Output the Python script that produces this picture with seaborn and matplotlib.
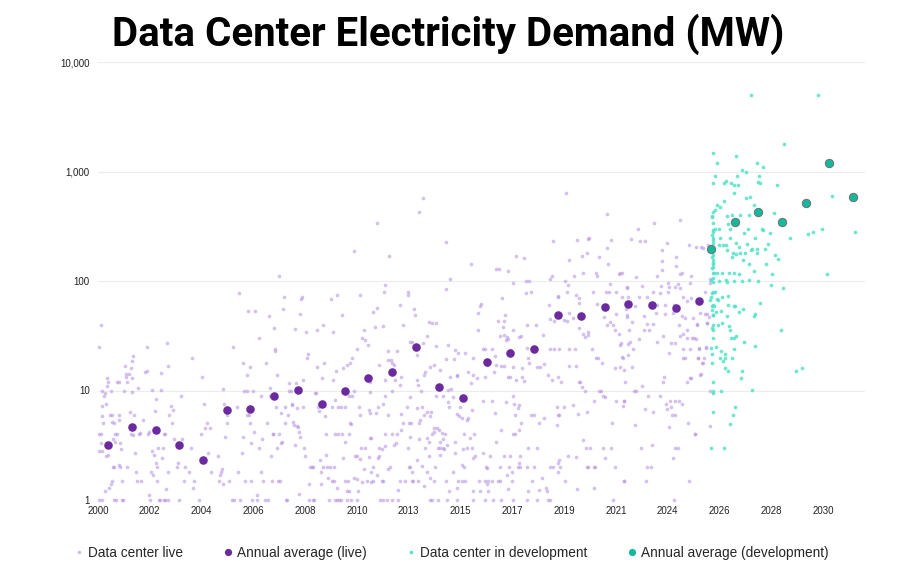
import warnings
warnings.filterwarnings("ignore")
import pandas as pd
import matplotlib
matplotlib.use("Agg")
import matplotlib.pyplot as plt
from matplotlib.lines import Line2D
from matplotlib.ticker import NullLocator
import seaborn as sns

# ---------------- data (year, MW) ----------------
live_2000s = [
(2000.06,24.8),(2000.12,40),(2000.15,10),(2000.06,4),(2000.12,4),(2000.17,7.2),(2000.18,5.9),(2000.19,5),(2000.12,3.3),(2000.15,2.8),
(2000.06,2.8),(2000.03,1),(2000.17,1),(2000.26,8.9),(2000.30,9.4),(2000.36,11),(2000.39,13),(2000.41,12),(2000.33,7.5),(2000.32,2.5),
(2000.43,2.6),(2000.30,1.2),(2000.46,1.3),(2000.54,1.4),(2000.57,1.5),(2000.50,6),(2000.54,10),(2000.58,5.2),(2000.61,3.6),(2000.62,2),
(2000.66,2),(2000.65,1),(2000.76,1),(2000.69,4),(2000.70,3.4),(2000.66,5),(2000.59,6),(2000.77,12),(2000.87,12),(2000.80,4),
(2000.86,6),(2000.88,5.4),(2000.88,2.1),(2000.91,2),(2000.98,1),(2001.02,1),(2000.92,3.3),(2000.95,2.9),(2001.01,1.5),(2001.08,10),
(2001.10,16.7),(2001.14,14),(2001.16,13.4),(2001.20,12),(2001.21,2),(2001.30,14.2),(2001.32,6.3),(2001.35,4),(2001.39,18.6),(2001.38,16),
(2001.41,13),(2001.41,9.7),(2001.46,20.7),(2001.46,3.9),(2001.50,6),(2001.53,2.7),(2001.56,1.8),(2001.61,1.5),(2001.64,10.6),(2001.70,4),
(2001.74,4.1),(2001.78,1.5),(2001.88,5.4),(2001.96,14.7),(2002.01,15),(2002.04,25),(2002.06,4),(2002.10,4.2),(2002.12,1.1),(2002.15,1),
(2002.21,1.8),(2002.22,10.2),(2002.25,2.8),(2002.28,1.7),(2002.32,2.6),(2002.36,6.5),(2002.39,8.3),(2002.41,2.2),(2002.43,2),(2002.46,1.5),
(2002.48,3),(2002.52,1),(2002.57,1),(2002.59,10.2),(2002.62,14.4),(2002.65,2.4),(2002.69,3),(2002.73,4),(2002.77,4),(2002.72,1),
(2002.79,1),(2002.81,1.25),(2002.84,27),(2002.88,16.7),(2002.90,1.8),(2002.91,1),(2002.95,6),(2003.01,7.2),(2003.06,5),(2003.10,6.7),
(2003.14,3.6),(2003.26,2),(2003.30,2.2),(2003.37,1),(2003.42,8.9),(2003.49,3.6),(2003.54,1.5),(2003.61,2),(2003.77,1.8),(2003.86,3),
(2003.90,19.7),(2003.93,1.3),(2003.99,1.5),(2004.19,1),(2004.26,4),(2004.32,13.4),(2004.37,7.5),(2004.41,4.5),(2004.50,5),(2004.57,2.7),
(2004.63,4.5),(2004.68,1.8),(2004.95,2.5),(2005.01,1.5),(2005.05,1.7),(2005.09,1.8),(2005.13,1.9),(2005.16,1.4),(2005.19,10.4),(2005.21,7.5),
(2005.27,3.8),(2005.32,6),(2005.34,5),(2005.41,1.5),(2005.53,1),(2005.57,25),(2005.63,1),(2005.74,7.1),(2005.78,1.8),(2005.85,77),
(2005.88,1),(2005.94,2.7),(2005.99,3.8),(2006.01,18),(2006.04,10),(2006.08,1.5),(2006.15,13.8),(2006.17,6),(2006.18,10),(2006.21,53),
(2006.25,6),(2006.28,16.3),(2006.30,5.1),(2006.33,3.3),(2006.34,1.5),(2006.39,1),(2006.41,10),(2006.44,4.2),(2006.50,53),(2006.57,1.1),
(2006.59,1),(2006.65,30),(2006.68,3),(2006.73,1.8),(2006.76,9),(2006.79,3.6),(2006.84,1.5),(2006.90,1),(2006.95,18),(2006.98,5),
(2007.03,1),(2007.09,48),(2007.10,10.5),(2007.13,9),(2007.16,2.5),(2007.19,1.5),(2007.24,4),(2007.26,4),(2007.28,37),(2007.31,23),
(2007.34,24),(2007.35,7.1),(2007.39,13.8),(2007.42,3),(2007.45,1.5),(2007.48,111),(2007.49,4),(2007.52,1.5),(2007.56,3.3),(2007.59,6.2),
(2007.63,3.4),(2007.67,56),(2007.70,71),(2007.72,5),(2007.75,7),(2007.78,1),(2007.82,1),(2007.85,6),(2007.89,11.6),(2007.92,9.8),
(2007.97,10),(2008.01,7.6),(2008.04,7.4),(2008.08,5.2),(2008.11,4.8),(2008.14,3.2),(2008.17,36.6),(2008.19,11.8),(2008.22,6.9),(2008.25,4.7),
(2008.28,4.6),(2008.30,4.2),(2008.32,1.13),(2008.34,3.8),(2008.37,50),(2008.40,69),(2008.44,72),(2008.47,7),(2008.50,12.5),(2008.54,3),
(2008.57,2.5),(2008.59,34),(2008.63,20),(2008.68,21.6),(2008.72,1.4),(2008.74,1),(2008.77,2),(2008.84,2),(2008.88,2),(2008.91,1),
(2008.94,1),(2008.98,9.4),(2009.02,9.5),(2009.05,36),(2009.08,16.5),(2009.10,7),(2009.13,7.6),(2009.16,6.5),(2009.19,2.3),(2009.21,1.8),
(2009.24,1.4),(2009.27,13),(2009.30,2),(2009.32,40),(2009.35,18),(2009.39,5.8),(2009.42,4),(2009.45,2.6),(2009.49,2),(2009.52,1.6),
(2009.56,1),(2009.59,2),(2009.63,68),(2009.66,1.5),(2009.68,7),(2009.71,12.6),(2009.74,34),(2009.77,1.5),(2009.79,4),(2009.82,1),
(2009.85,15),(2009.88,74),(2009.90,1.3),(2009.93,7),(2009.97,1),
]

live_2010s_a = [
(2010.83,74),(2010.08,49),(2011.00,36),(2010.94,30),(2011.05,29),(2011.19,26),(2010.70,24),(2010.51,20),(2010.29,17),(2010.12,16),
(2010.44,18),(2009.82,8.2),(2010.04,7),(2010.23,7),(2010.40,9),(2010.52,9),(2010.58,10),(2010.48,4.9),(2010.41,5),(2010.83,6),
(2010.81,7),(2011.21,6.7),(2011.24,9.7),(2011.27,12),(2010.21,3.4),(2010.10,4),(2009.93,4),(2010.40,4),(2011.24,3.7),(2011.31,3.7),
(2010.90,3),(2011.03,3),(2010.70,2.5),(2010.62,2.5),(2010.83,2.35),(2010.12,2.4),(2009.78,2),(2010.21,1.5),(2010.36,1.5),(2010.29,1.2),
(2010.40,1.2),(2010.59,1.6),(2010.73,1.55),(2010.94,1.45),(2011.12,1.5),(2010.74,1.2),(2009.90,1),(2010.05,1),(2010.29,1),(2010.47,1),
(2010.73,1),
(2011.46,38),(2011.39,52),(2011.56,57),(2011.81,39),(2012.00,23),(2012.01,19),(2012.11,19),(2012.15,18),(2012.18,14.5),(2012.39,23),
(2012.48,60),(2012.61,40),(2012.81,79),(2012.84,74),(2013.08,55),(2013.12,49),(2013.01,28),(2012.91,28),(2012.26,17),(2012.54,13.4),
(2011.88,12.5),(2011.64,17),(2012.29,12.5),(2012.50,11.2),(2012.15,10),(2011.88,9),(2011.77,7.6),(2011.60,7),(2011.50,6.2),(2011.26,6.2),
(2012.01,6),(2012.54,6.1),(2012.61,5),(2012.88,5),(2012.91,8.8),(2012.77,7.1),(2012.17,4),(2011.86,4),(2011.88,3.1),(2012.36,4),
(2012.32,3.3),(2012.26,3.2),(2012.52,4.4),(2012.81,3),(2012.91,3.8),(2011.61,3),(2011.74,2.9),(2011.63,2.5),(2011.23,2.45),(2011.57,2.4),
(2012.10,2),(2012.00,1.9),(2011.38,2),(2011.30,1.8),(2011.01,1.9),(2011.74,1.5),(2011.81,1.5),(2011.54,1.7),(2011.39,1.5),(2011.31,1.45),
(2012.50,1.5),(2012.69,1.5),(2012.98,1.5),(2013.05,1.5),(2012.40,1.23),(2012.88,2),(2012.91,2),(2012.98,1.8),(2011.67,1),(2011.81,1),
(2011.94,1),(2012.15,1),(2012.43,1),
(2013.21,21),(2013.46,27),(2013.60,31.4),(2013.68,42.6),(2013.81,41.5),(2013.97,41.5),(2014.41,84),(2013.99,25.5),(2014.48,26),(2014.75,23.4),
(2013.90,17),(2013.49,13.8),(2013.21,12.5),(2013.53,14.8),(2013.74,16.5),(2014.39,19.3),(2014.15,15.4),(2014.90,21.9),(2014.57,13.4),(2014.84,13.6),
(2014.72,19.5),(2013.24,11.2),(2013.37,10),(2013.21,6.9),(2013.39,7.1),(2013.60,6.4),(2013.77,6.4),(2014.00,9),(2014.26,9),(2014.46,10.2),
(2014.68,8.8),(2014.46,7.9),(2014.52,7.1),(2014.87,6.1),(2014.95,5.8),(2015.05,5.6),(2014.98,7.1),(2014.87,13.8),(2014.60,10.4),(2013.32,5.4),
(2013.50,6),(2013.74,5.8),(2012.94,5),(2013.26,5),(2013.92,4.5),(2014.01,4.5),(2014.11,4.4),(2014.22,4.1),(2014.36,4),(2013.88,4.2),
(2013.81,4),(2013.30,3.6),(2013.63,3.7),(2013.70,3.4),(2014.15,3.4),(2014.29,3.6),(2013.53,3),(2014.05,3),(2014.14,3),(2014.26,3),
(2014.32,2.9),(2014.43,3.2),(2014.76,3.4),(2015.12,2.9),(2014.77,2.7),(2013.71,2.5),(2014.15,2.6),(2013.21,2.3),(2013.39,2.05),(2013.96,2),
(2013.60,1.8),(2013.92,1.5),(2013.23,1.5),(2013.50,1.35),(2013.74,1.6),(2014.39,1.5),(2014.68,1.8),(2014.91,1.5),(2015.05,1.5),(2015.19,1.5),
(2014.84,1.28),(2015.05,2.1),(2015.16,2),(2014.52,1.2),(2013.74,1),(2013.81,1),(2014.08,1),(2014.43,1),(2014.84,1),
]

live_2010s_b = [
(2010.60,188),(2012.03,169),(2011.88,91),(2011.85,80),(2014.57,104),(2015.43,143),(2016.46,129),(2016.60,129),(2016.95,124),(2017.30,169),
(2017.64,161),(2017.17,95),(2017.72,100),(2017.83,101),(2017.90,80),(2017.71,77),(2019.50,155),(2020.04,168),(2020.22,179),(2020.74,164),
(2021.10,143),(2020.08,119),(2019.70,110),(2018.77,111),(2018.70,104),(2020.59,119),(2020.65,110),(2021.54,117),(2021.67,119),(2021.19,94),
(2021.89,87),(2021.42,79),(2021.00,79),(2021.12,79),
(2015.19,21.9),(2015.32,14.8),(2015.53,20),(2015.45,11.8),(2015.74,50.6),(2015.79,59.5),(2015.83,61.6),(2015.71,35.6),(2015.94,23.8),(2016.01,23.8),
(2016.08,17),(2016.29,23.8),(2016.41,20.6),(2016.46,17),(2016.54,43),(2016.63,31.7),(2016.77,38.2),(2016.81,43),(2016.84,49),(2016.73,70.5),
(2016.87,29),(2016.81,32),(2017.15,35.6),(2016.98,29.3),(2016.94,31),(2017.05,23.4),(2016.66,16.7),(2016.81,16.7),(2017.16,16.5),(2015.53,13.8),
(2015.67,12.9),(2016.03,13.4),(2016.40,14.7),(2016.98,13.4),(2017.05,13.4),(2015.92,8),(2016.29,8),(2016.43,6.2),(2017.17,9),(2016.89,7.9),
(2017.21,7.5),(2017.24,6),(2015.48,6.6),(2015.32,5.6),(2015.26,5.4),(2015.39,3.7),(2015.16,4),(2015.28,3),(2015.46,3),(2015.56,4),
(2015.60,2.5),(2015.50,2.4),(2015.94,2.7),(2016.22,2.5),(2016.81,2.5),(2017.05,2.5),(2017.17,4),(2017.26,4),(2016.66,4.4),(2016.46,3.4),
(2016.04,2),(2016.08,1.95),(2016.63,2),(2017.00,2),(2017.12,1.8),(2016.91,1.7),(2016.65,1.5),(2016.54,1.5),(2015.78,1.5),(2015.99,1.5),
(2016.12,1.5),(2016.30,1.5),(2017.14,1.5),(2016.11,1.4),(2015.53,1.2),(2015.81,1.2),(2016.15,1.2),(2016.98,1.25),(2015.53,1),(2016.03,1),
(2016.36,1),(2016.68,1),(2017.17,1),
(2017.41,30.5),(2017.48,31.4),(2017.74,39.7),(2018.11,39.7),(2018.40,32),(2018.65,60),(2018.70,44.8),(2018.87,43),(2019.01,71.6),(2019.03,73.7),
(2018.70,23.9),(2018.87,23.9),(2019.06,23.9),(2019.26,44),(2017.85,17.7),(2017.74,24.3),(2017.78,19.9),(2018.29,16.3),(2018.43,17.5),(2017.53,15.9),
(2017.53,13.4),(2017.28,12.5),(2017.61,12.2),(2018.15,16.5),(2018.63,13.8),(2018.77,12.5),(2019.01,13.4),(2019.17,12),(2017.38,6.9),(2017.43,7.4),
(2017.92,6),(2018.04,6),(2018.26,5),(2018.43,5.6),(2019.03,6),(2019.08,6),(2018.98,4.8),(2017.50,5),(2017.41,4.4),(2017.78,3),
(2018.15,3),(2017.46,2.5),(2017.42,2.2),(2017.37,2),(2017.46,2),(2017.74,2),(2018.04,2),(2018.70,2),(2018.81,2),(2019.08,2.3),
(2019.05,1.8),(2018.36,1.6),(2017.96,1.5),(2018.26,1.23),(2018.52,1.3),(2018.59,1.2),(2017.79,1.2),(2018.63,1),(2018.70,1),(2018.15,1),
(2017.74,1),
(2019.32,100),(2019.43,91),(2019.39,80),(2019.78,74),(2019.89,70.5),(2019.42,43.5),(2019.50,50.7),(2019.67,45.5),(2019.90,63),(2019.88,37),
(2020.08,32.6),(2020.26,32),(2020.46,80),(2020.29,34.5),(2020.63,61.6),(2020.95,47.3),(2021.05,39.7),(2021.19,42.5),(2021.30,39.7),(2021.38,35.6),
(2021.55,33),(2021.64,27),(2021.43,49.6),(2021.88,49),(2021.93,26.5),(2019.50,23.7),(2019.74,23.7),(2020.15,31),(2020.43,23.7),(2020.59,20),
(2020.68,20),(2020.84,18),(2019.50,16.8),(2019.76,16.8),(2019.88,12),(2019.94,12),(2020.04,10.8),(2020.15,9.9),(2020.74,10),(2020.81,10),
(2020.91,9),(2020.98,8.8),(2021.39,15.9),(2021.68,20.4),(2021.74,15.4),(2021.79,12),(2021.78,8),(2021.43,8),(2021.60,16.5),(2018.98,7.1),
(2019.26,7.1),(2019.67,7.4),(2019.86,6.1),(2020.22,6.4),(2020.50,8),(2021.26,5),(2020.08,3.5),(2020.19,3),(2020.36,3),(2019.46,2.5),
(2019.78,2.45),(2020.22,2),(2020.29,2),(2020.50,2),(2020.57,2),(2020.91,3),(2021.23,3),(2020.98,2.4),(2021.37,2),(2019.05,2.2),
(2019.12,2),(2019.30,1.5),(2019.81,1.26),(2020.50,1.3),(2021.74,1.5),(2021.32,1),
]

live_2020s = [
(2021.60,119),(2022.26,108),(2021.89,87.5),(2022.50,90),(2023.32,126),(2023.14,111),(2023.34,153),(2023.92,166),(2023.93,137),(2024.08,116),
(2024.18,119),(2024.54,111),(2024.47,95),(2023.57,95),(2023.99,94),(2023.86,89),(2024.08,86),(2023.30,90),(2023.61,87.5),(2023.26,77),
(2023.60,80),(2022.98,80),(2022.70,72),(2022.36,72),(2021.94,72),(2021.67,72),(2024.22,72),(2024.36,65),(2024.55,69.5),(2025.12,80),
(2025.32,95),(2025.30,104),(2021.85,56),(2022.22,59),(2022.84,59),(2023.14,61),(2023.46,60),(2023.83,60),(2021.90,47),(2022.57,48),
(2023.08,51),(2023.46,50),(2023.78,51),(2024.15,48),(2024.29,45.6),(2024.61,45.6),(2024.91,51),(2025.12,50),(2025.21,50),(2025.26,47),
(2022.10,42),(2022.70,40.5),(2022.98,40.5),(2024.80,40.5),(2025.19,41.5),(2024.04,39.6),(2021.96,35.7),(2022.59,35.7),(2022.81,35.7),(2024.36,35.7),
(2024.22,32.6),(2024.06,31.7),(2023.12,28),(2023.39,31.5),(2022.40,29.7),(2023.70,27),(2023.85,27),(2024.36,30),(2024.57,30),(2024.74,29.3),
(2024.86,24),(2025.16,24.6),(2022.01,28),(2021.60,26),(2022.12,24),(2024.22,24),(2024.47,24),(2021.94,21),(2021.70,20),(2023.64,21.8),
(2024.19,20),(2024.29,20),(2024.81,20),(2025.05,20),(2024.98,18),(2022.11,16.3),(2024.91,13.9),(2023.43,13.4),(2023.39,12),(2024.50,12.9),
(2024.36,11.9),(2022.50,11),(2022.19,10),(2022.26,10),(2021.78,8),(2021.71,7.2),(2022.77,9),(2023.23,9),(2023.50,7.5),(2023.67,8),
(2023.85,8),(2024.03,8),(2024.18,7.5),(2023.53,6.8),(2023.71,7),(2022.63,6.8),(2022.94,6.3),(2023.74,6),(2023.85,6),(2024.40,5),
(2025.30,4.7),(2022.22,4.8),(2023.64,4.6),(2024.68,4),(2022.91,3.2),(2022.46,3),(2023.88,3),(2024.01,3),(2023.77,2.4),(2022.70,2),
(2022.88,2),(2021.74,1.5),(2022.68,1.5),(2024.43,1.5),(2023.81,1),
(2024.77,40),(2025.18,41.6),(2024.66,30),(2024.88,24.3),(2025.14,25),(2024.84,20),(2025.01,18),(2024.96,14),(2024.52,12.9),(2025.30,10),
(2024.69,4),
]

live_high = [
(2013.46,573),(2013.29,427),(2011.53,341),(2014.41,226),(2019.36,640),(2021.07,409),(2018.83,230),(2019.83,235),(2020.26,240),(2020.30,245),
(2021.22,238),(2021.04,200),(2022.32,298),(2022.99,336),(2024.07,358),(2022.06,240),(2022.43,233),(2022.61,233),(2023.54,221),(2024.43,212),
(2024.72,206),(2024.95,205),(2025.03,199),(2025.25,212),(2023.34,192),
]

dev_upper = [
(2027.03,4970),(2029.78,4970),(2025.46,1485),(2028.39,1783),(2026.40,1386),(2025.59,1188),(2027.26,1188),(2027.53,1107),(2026.63,1032),(2026.79,989),
(2026.43,916),(2025.52,916),(2027.34,916),(2025.46,791),(2025.89,791),(2025.99,819),(2026.19,791),(2026.33,758),(2026.47,760),(2027.30,795),
(2027.37,791),(2028.08,758),(2026.29,640),(2026.81,576),(2026.98,590),(2030.35,593),(2025.60,494),(2025.74,477),(2025.90,535),(2027.12,498),
(2025.53,445),(2025.41,395),(2026.04,393),(2026.21,400),(2026.54,400),(2026.92,400),(2027.96,415),(2025.46,341),(2025.43,282),(2025.53,297),
(2025.67,301),(2026.07,333),(2026.15,297),(2026.88,297),(2027.45,297),(2027.50,294),(2026.73,276),(2027.78,272),(2028.63,249),(2029.37,270),
(2029.57,278),(2029.96,297),(2031.32,278),(2025.41,261),(2025.43,245),(2025.74,249),(2026.15,249),(2026.40,221),(2026.84,216),(2027.16,245),
(2027.70,216),(2025.99,214),(2025.85,214),(2025.71,214),(2026.50,206),(2027.05,195),(2027.26,197),(2027.60,196),
]

dev_middle = [
(2026.04,192),(2026.26,179),(2026.22,166),(2026.40,176),(2026.57,179),(2026.77,179),(2027.02,192),(2027.25,179),(2026.70,155),(2026.94,143),
(2027.64,143),(2028.01,174),(2028.15,159),(2027.12,124),(2026.52,115),(2026.33,119),(2026.12,119),(2025.81,119),(2025.60,119),(2025.46,119),
(2027.89,115),(2030.15,115),(2025.46,133),(2025.46,143),(2025.46,155),(2025.39,166),(2025.35,103),(2025.46,98.6),(2025.67,100),(2025.99,102),
(2026.01,98),(2026.29,100),(2026.63,100),(2026.95,103),(2027.32,100),(2027.83,92),(2028.33,87),(2025.39,78),(2025.53,80),(2025.81,72),
(2026.08,73),(2025.35,72),(2025.32,67),(2025.60,68.5),(2025.63,67),(2025.39,59.6),(2025.50,59.6),(2026.08,61),(2026.29,59),(2026.36,59),
(2027.39,63),(2025.39,54),(2025.57,52.5),(2025.77,53),(2026.50,52.5),(2026.70,55.5),(2027.19,50),(2027.15,48),(2025.46,49),(2026.01,48),
(2029.12,15.9),
(2025.44,430),(2025.42,386),(2025.45,292),(2025.43,237),(2025.44,221),(2025.45,192),(2025.43,173),(2025.44,145),(2025.42,131),(2025.47,118),
(2025.44,106),(2025.43,80),(2025.45,60),(2025.44,49),(2025.42,37),
]

dev_lower = [
(2025.43,40),(2025.66,39.6),(2025.83,41.6),(2026.09,38.8),(2026.15,35.7),(2025.46,35.7),(2028.24,35.7),(2025.46,30),(2026.17,30),(2026.31,30),
(2026.41,31.7),(2026.72,27.7),(2027.18,25.6),(2025.35,24.6),(2025.57,24.8),(2025.79,23),(2025.93,21.4),(2026.32,23.8),(2025.39,21.4),(2025.73,20),
(2025.92,20),(2025.84,18.6),(2026.24,20),(2025.41,18),(2025.94,16),(2026.05,15),(2026.66,15),(2026.59,13.1),(2028.88,15),(2025.46,12),
(2025.46,10),(2025.46,9.5),(2025.76,10),(2027.07,10.1),(2025.43,6.3),(2026.37,7),(2026.28,6),(2026.16,4.9),(2025.36,3),(2025.91,3),
]

live_avg_year = [2000.43, 2001.42, 2002.39, 2003.36, 2004.34, 2005.34, 2006.30, 2007.28, 2008.26, 2009.26,
                 2010.21, 2011.18, 2012.16, 2013.14, 2014.11, 2015.10, 2016.08, 2017.06, 2018.04, 2019.02,
                 2020.00, 2020.98, 2021.92, 2022.92, 2023.91, 2024.88]
live_avg_mw = [3.2, 4.6, 4.4, 3.2, 2.3, 6.6, 6.8, 8.9, 10.1, 7.5,
               10.0, 13.0, 14.7, 25.0, 10.8, 8.5, 18.1, 22.0, 23.8, 48.6,
               48.2, 57.5, 61.7, 60.8, 57.0, 65.6]

dev_avg_year = [2025.36, 2026.34, 2027.32, 2028.30, 2029.28, 2030.25, 2031.23]
dev_avg_mw = [196, 347, 430, 347, 519, 1188, 589]

y_ticks = [1, 10, 100, 1000, 10000]
y_tick_labels = ["1", "10", "100", "1,000", "10,000"]
x_tick_labels = ["2000", "2002", "2004", "2006", "2008", "2010", "2013", "2015",
                 "2017", "2019", "2021", "2024", "2026", "2028", "2030"]

title = "Data Center Electricity Demand (MW)"
legend_labels = ["Data center live", "Annual average (live)",
                 "Data center in development", "Annual average (development)"]

# ---------------- styling ----------------
LIVE_C = "#b48fe0"
LIVE_AVG_C = "#6b2a9e"
DEV_C = "#52e3c8"
DEV_AVG_C = "#13b99c"

sns.set_theme(style="white")
plt.rcParams['font.family'] = ['Liberation Sans', 'DejaVu Sans']


def to_df(points):
    return pd.DataFrame({"year": [p[0] for p in points], "mw": [p[1] for p in points]})


live_df = to_df(live_2000s + live_2010s_a + live_2010s_b + live_2020s + live_high)
dev_df = to_df(dev_upper + dev_middle + dev_lower)
live_avg_df = pd.DataFrame({"year": live_avg_year, "mw": live_avg_mw})
dev_avg_df = pd.DataFrame({"year": dev_avg_year, "mw": dev_avg_mw})

fig = plt.figure(figsize=(9, 5.71), dpi=100)
ax = fig.add_axes([98 / 900, 1 - 500 / 571, (865 - 98) / 900, (500 - 62) / 571])

sns.scatterplot(data=live_df, x="year", y="mw", ax=ax, s=7, color=LIVE_C,
                alpha=0.55, linewidth=0, zorder=3)
sns.scatterplot(data=dev_df, x="year", y="mw", ax=ax, s=7, color=DEV_C,
                alpha=0.85, linewidth=0, zorder=4)
sns.scatterplot(data=live_avg_df, x="year", y="mw", ax=ax, s=38, color=LIVE_AVG_C,
                linewidth=0, zorder=5)
sns.scatterplot(data=dev_avg_df, x="year", y="mw", ax=ax, s=36, color=DEV_AVG_C,
                edgecolor="#6f6f6f", linewidth=0.7, zorder=6)

ax.set_yscale("log")
ax.set_ylim(1, 10000)
ax.set_xlim(2000, 2031.73)
for coll in ax.collections:
    coll.set_clip_on(False)

ax.set_yticks(y_ticks)
ax.set_yticklabels(y_tick_labels)
ax.yaxis.set_minor_locator(NullLocator())
x_ticks = [2000 + k * 30 / 14 for k in range(len(x_tick_labels))]
ax.set_xticks(x_ticks)
ax.set_xticklabels(x_tick_labels)

ax.grid(axis="y", color="#ececec", linewidth=0.8)
ax.grid(axis="x", visible=False)
ax.set_axisbelow(True)
for sp in ax.spines.values():
    sp.set_visible(False)
ax.tick_params(axis="both", length=0, labelsize=7, colors="#222222")
ax.tick_params(axis="y", pad=6)
ax.tick_params(axis="x", pad=4)
ax.set_xlabel("")
ax.set_ylabel("")

handles = [
    Line2D([], [], linestyle="none", marker="o", markersize=2.6, markerfacecolor=LIVE_C,
           markeredgewidth=0, alpha=0.6),
    Line2D([], [], linestyle="none", marker="o", markersize=5.2, markerfacecolor=LIVE_AVG_C,
           markeredgewidth=0),
    Line2D([], [], linestyle="none", marker="o", markersize=2.6, markerfacecolor=DEV_C,
           markeredgewidth=0),
    Line2D([], [], linestyle="none", marker="o", markersize=5.2, markerfacecolor=DEV_AVG_C,
           markeredgewidth=0),
]
fig.legend(handles, legend_labels, loc="center", bbox_to_anchor=(0.502, 1 - 553 / 571),
           ncol=4, frameon=False, fontsize=9.8, handlelength=0.6, handletextpad=0.35,
           columnspacing=3.0)

fig.text(0.498, 1 - 34 / 571, title, ha="center", va="center", fontsize=29,
         fontweight="bold", family=["Liberation Sans Narrow", "Roboto", "DejaVu Sans"],
         color="#000000")

fig.savefig("out.png", dpi=100)
